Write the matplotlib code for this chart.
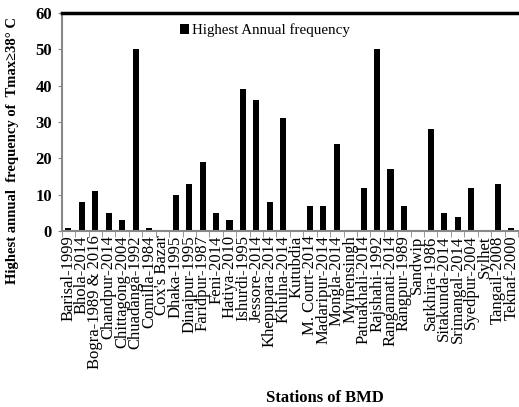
import matplotlib
matplotlib.use("Agg")
import matplotlib.pyplot as plt
import numpy as np

stations = ["Barisal-1999", "Bhola-2014", "Bogra-1989 & 2016", "Chandpur-2014",
            "Chittagong-2004", "Chuadanga-1992", "Comilla-1984", "Cox's Bazar",
            "Dhaka-1995", "Dinajpur-1995", "Faridpur-1987", "Feni-2014",
            "Hatiya-2010", "Ishurdi-1995", "Jessore-2014", "Khepupara-2014",
            "Khulna-2014", "Kutubdia", "M. Court-2014", "Madaripur-2014",
            "Mongla-2014", "Mymensingh", "Patuakhali-2014", "Rajshahi-1992",
            "Rangamati-2014", "Rangpur-1989", "Sandwip", "Satkhira-1986",
            "Sitakunda-2014", "Srimangal-2014", "Syedpur-2004", "Sylhet",
            "Tangail-2008", "Teknaf-2000"]
freq = [1, 8, 11, 5, 3, 50, 1, 0, 10, 13, 19, 5, 3, 39, 36, 8, 31, 0, 7, 7,
        24, 0, 12, 50, 17, 7, 0, 28, 5, 4, 12, 0, 13, 1]
yticks = [0, 10, 20, 30, 40, 50, 60]

plt.rcParams['font.family'] = ['Liberation Serif', 'DejaVu Serif']

fig = plt.figure(figsize=(5.19, 4.07), dpi=100)
ax = fig.add_axes([0.119, 0.432, 0.879, 0.536])

x = np.arange(len(stations))
ax.bar(x, freq, width=0.45, color='black', label='Highest Annual frequency')
ax.set_xlim(-0.5, len(stations) - 0.5)
ax.set_ylim(0, 60)
ax.set_yticks(yticks)
ax.set_yticklabels([str(v) for v in yticks], fontweight='bold', fontsize=12)

ax.set_xticks(x)
ax.set_xticklabels(stations, rotation=90, fontsize=12, va='top', ha='center')
ax.tick_params(axis='x', which='major', length=0, pad=3)
ax.set_xticks(np.arange(-0.5, len(stations), 1.0), minor=True)
ax.tick_params(axis='x', which='minor', length=4, color='#888888', direction='out')
ax.tick_params(axis='y', length=3, color='#888888', pad=4)

for s in ['left', 'bottom']:
    ax.spines[s].set_color('#888888')
    ax.spines[s].set_linewidth(1.5)
ax.spines['top'].set_color('black')
ax.spines['top'].set_linewidth(2.5)
ax.spines['right'].set_visible(False)

fig.text(13 / 519, 1 - 150 / 407, 'Highest annual  frequency of  Tmax≥38° C',
         rotation=90, fontweight='bold', fontsize=10.5, ha='center', va='center')
fig.text(325 / 519, 1 - 398 / 407, 'Stations of BMD', fontweight='bold',
         fontsize=12, ha='center', va='center')

leg = ax.legend(loc='upper left', bbox_to_anchor=(0.247, 0.98), frameon=False,
                fontsize=10.8, handlelength=0.6, handleheight=0.6, handletextpad=0.2,
                borderaxespad=0)

fig.savefig('out.png', dpi=100)
